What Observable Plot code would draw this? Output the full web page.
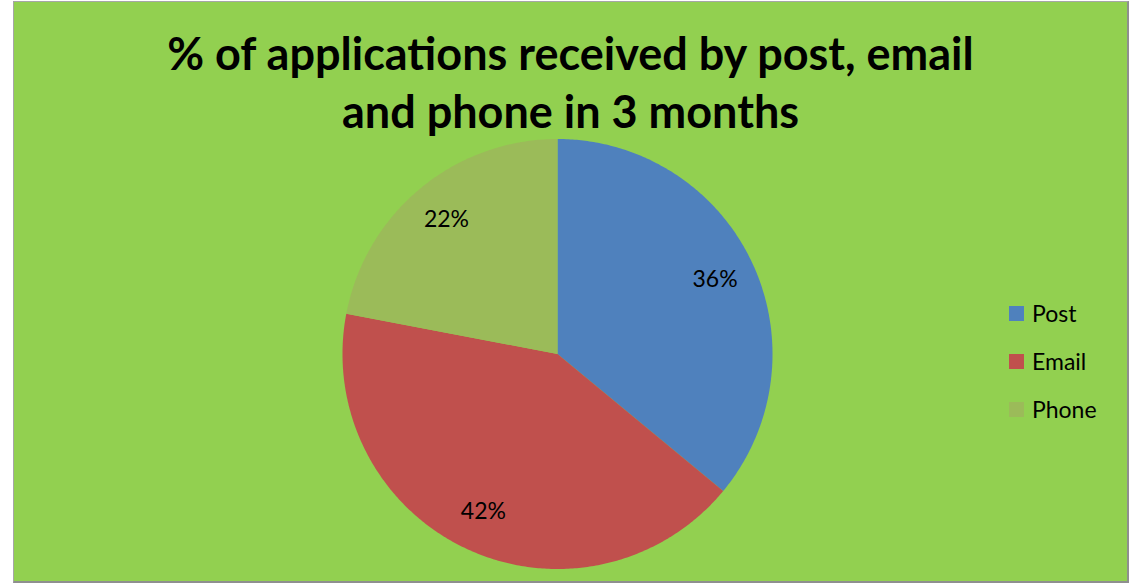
<!DOCTYPE html>
<html><head><meta charset="utf-8">
<script src="https://cdn.jsdelivr.net/npm/d3@7"></script>
<script src="https://cdn.jsdelivr.net/npm/@observablehq/plot@0.6"></script>
<style>
html,body{margin:0;padding:0;background:#fff;}
#box{position:absolute;left:13px;top:1px;width:1113px;height:579px;background:#92D050;
 border:1px solid #a6a6a6;border-right:2px solid #8f8f8f;border-bottom:2px solid #8f8f8f;
 font-family:Lato,"Open Sans",sans-serif;color:#000;overflow:hidden;}
#title{position:absolute;left:0;top:22px;width:100%;text-align:center;font-weight:bold;font-size:45px;line-height:58px;}
#chart{position:absolute;left:0;top:130px;}
#legend{position:absolute;left:995px;top:287px;}
.item{display:flex;align-items:center;height:48px;font-size:23px;}
.sw{width:15px;height:15px;margin-right:8px;}
</style></head>
<body>
<div id="box">
  <div id="title">% of applications received by post, email<br>and phone in 3 months</div>
  <div id="chart"></div>
  <div id="legend"></div>
</div>
<script>
const categories = ["Post", "Email", "Phone"];
const values = [36, 42, 22];
const colors = ["#4F81BD", "#C0504D", "#9BBB59"];
const labels = ["36%", "42%", "22%"];

const W = 1113, H = 449, R = 215, cx = 543, cy = 221.5;
const arcs = d3.pie().sort(null).value(d => d.value)(categories.map((name, i) => ({name, value: values[i]})));

// polygon outline for each slice (geometry sampled along the arc)
const pts = [];
arcs.forEach(a => {
  const name = a.data.name;
  pts.push({name, x: 0, y: 0});
  const n = Math.max(8, Math.ceil((a.endAngle - a.startAngle) / 0.01));
  for (let k = 0; k <= n; k++) {
    const t = a.startAngle + (a.endAngle - a.startAngle) * k / n;
    pts.push({name, x: Math.sin(t), y: Math.cos(t)});
  }
});
const lab = arcs.map((a, i) => {
  const m = (a.startAngle + a.endAngle) / 2;
  return {label: labels[i], x: 0.81 * Math.sin(m), y: 0.81 * Math.cos(m)};
});

const chart = Plot.plot({
  width: W, height: H,
  margin: 0,
  x: {domain: [-cx / R, (W - cx) / R], axis: null},
  y: {domain: [-(H - cy) / R, cy / R], axis: null},
  color: {domain: categories, range: colors},
  style: {background: "transparent", fontFamily: "Lato, 'Open Sans', sans-serif"},
  marks: [
    Plot.line(pts, {x: "x", y: "y", z: "name", fill: "name", stroke: "none"}),
    Plot.text(lab, {x: "x", y: "y", text: "label", fontSize: 23, fill: "#000"})
  ]
});
document.getElementById("chart").appendChild(chart);

const lg = document.getElementById("legend");
categories.forEach((c, i) => {
  const d = document.createElement("div");
  d.className = "item";
  d.innerHTML = `<div class="sw" style="background:${colors[i]}"></div><span>${c}</span>`;
  lg.appendChild(d);
});
</script>
</body></html>
